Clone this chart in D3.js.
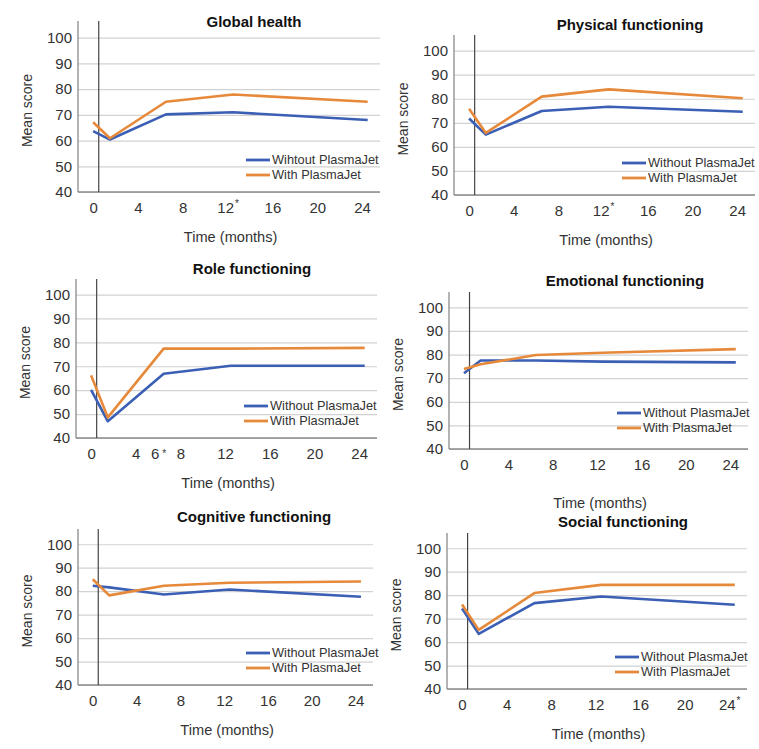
<!DOCTYPE html>
<html lang="en">
<head>
  <meta charset="UTF-8">
  <title>PlasmaJet quality of life</title>
  <script src="https://cdn.jsdelivr.net/npm/d3@7"></script>
  <style>
    body { margin: 0; background: #fff; }
    svg text { font-family: "Liberation Sans", Arial, sans-serif; fill: #333; }
    .grid line { stroke: #d2d2d2; stroke-width: 1.2px; }
    .grid path { display: none; }
    .tick-x line { display: none; }
    .tick-x path { display: none; }
    .title { font-weight: bold; font-size: 15px; fill: #111; }
    .line { fill: none; stroke-width: 2.6px; stroke-linejoin: round; }
  </style>
</head>
<body>
<svg width="759" height="749"></svg>
<script>
  // time points (months) and tick values
  var months = [0, 1.5, 6.5, 12.5, 24.5];
  var xTicks = [0, 4, 8, 12, 16, 20, 24];
  var xTicksRole = [0, 4, 6, 8, 12, 16, 20, 24];
  var yTicks = [40, 50, 60, 70, 80, 90, 100];

  var titles = ["Global health", "Physical functioning", "Role functioning",
                "Emotional functioning", "Cognitive functioning", "Social functioning"];
  // month that carries a significance asterisk per panel
  var starAt = [12, 12, 6, null, null, 24];

  var withoutLabel = ["Wihtout PlasmaJet", "Without PlasmaJet", "Without PlasmaJet",
                      "Without PlasmaJet", "Without PlasmaJet", "Without PlasmaJet"];
  var withLabel = "With PlasmaJet";

  var without = [
    [63.7, 60.4, 70.2, 71.0, 68.0],
    [71.8, 65.1, 74.9, 76.7, 74.6],
    [60.1, 47.0, 66.9, 70.2, 70.2],
    [72.1, 77.5, 77.5, 77.0, 76.7],
    [82.3, 81.6, 78.6, 80.7, 77.6],
    [74.3, 63.5, 76.6, 79.4, 75.9]
  ];
  var withJet = [
    [67.1, 60.9, 75.1, 77.9, 75.1],
    [75.8, 65.8, 80.9, 83.9, 80.2],
    [66.2, 48.6, 77.4, 77.4, 77.7],
    [73.9, 75.9, 79.8, 80.8, 82.3],
    [85.1, 78.2, 82.3, 83.6, 84.1],
    [76.0, 65.2, 80.9, 84.4, 84.4]
  ];

  var blue = "#3b5fb4", orange = "#e6893a";

  // panel boxes: left, top, bottom, right
  var boxes = [
    {l: 78, t: 21, b: 192, r: 380, ty: 27},
    {l: 454, t: 35, b: 195, r: 755, ty: 30},
    {l: 76, t: 279, b: 438, r: 377, ty: 274},
    {l: 449, t: 292, b: 449, r: 748, ty: 286},
    {l: 78, t: 529, b: 685, r: 373, ty: 522},
    {l: 447, t: 533, b: 689, r: 747, ty: 527}
  ];

  var svg = d3.select("svg");

  boxes.forEach(function(bx, i) {
    var w = bx.r - bx.l, h = bx.b - bx.t;
    var g = svg.append("g").attr("transform", "translate(" + bx.l + "," + bx.t + ")");

    var x = d3.scaleLinear().domain([-1.35, 25.6]).range([0, w]);
    var y = d3.scaleLinear().domain([40, 106.5]).range([h, 0]);

    // gridlines + y labels
    g.append("g")
        .attr("class", "grid")
        .call(d3.axisLeft(y).tickValues(yTicks).tickSize(-w).tickPadding(6))
      .selectAll("text")
        .style("font-size", "15px")
        .attr("fill", "#444");

    // x labels
    var xa = g.append("g")
        .attr("class", "tick-x")
        .attr("transform", "translate(0," + h + ")")
        .call(d3.axisBottom(x).tickValues(i === 2 ? xTicksRole : xTicks).tickSize(0).tickPadding(10));
    xa.selectAll("text")
        .style("font-size", "15px")
        .attr("fill", "#444")
        .each(function(d) {
          if (d === starAt[i]) {
            var t = d3.select(this);
            t.append("tspan")
                .attr("dx", i === 2 ? 3 : 1)
                .attr("dy", i === 2 ? -2 : -6)
                .style("font-size", "10px")
                .text("*");
          }
        });

    // axis lines
    g.append("line").attr("x1", 0).attr("x2", w).attr("y1", h).attr("y2", h)
        .attr("stroke", "#8a8a8a").attr("stroke-width", 1.3);
    g.append("line").attr("x1", 0).attr("x2", 0).attr("y1", 0).attr("y2", h)
        .attr("stroke", "#8a8a8a").attr("stroke-width", 1.3);
    // baseline marker
    g.append("line").attr("x1", x(0.5)).attr("x2", x(0.5)).attr("y1", 0).attr("y2", h)
        .attr("stroke", "#444").attr("stroke-width", 1.2);

    var line = d3.line()
        .x(function(d, j) { return x(months[j]); })
        .y(function(d) { return y(d); });

    g.append("path").datum(without[i]).attr("class", "line").attr("stroke", blue).attr("d", line);
    g.append("path").datum(withJet[i]).attr("class", "line").attr("stroke", orange).attr("d", line);

    // title
    svg.append("text")
        .attr("class", "title")
        .attr("x", bx.l + 176)
        .attr("y", bx.ty)
        .attr("text-anchor", "middle")
        .text(titles[i]);

    // axis titles
    g.append("text")
        .attr("transform", "translate(-51," + (h / 2 + 4) + ") rotate(-90)")
        .attr("text-anchor", "middle")
        .attr("dy", "0.35em")
        .style("font-size", "14px")
        .attr("fill", "#444")
        .text("Mean score");
    g.append("text")
        .attr("x", x(12) + 3)
        .attr("y", h + (i === 3 ? 54 : 45))
        .attr("text-anchor", "middle")
        .attr("dy", "0.35em")
        .style("font-size", "14.6px")
        .attr("fill", "#444")
        .text("Time (months)");

    // legend
    var leg = [{c: blue, t: withoutLabel[i], dy: 32}, {c: orange, t: withLabel, dy: 17}];
    leg.forEach(function(e) {
      var ly = h - (i === 3 ? e.dy + 4 : e.dy);
      g.append("line").attr("x1", 168).attr("x2", 192).attr("y1", ly).attr("y2", ly)
          .attr("stroke", e.c).attr("stroke-width", 2.8);
      g.append("text").attr("x", 194).attr("y", ly).attr("dy", "0.35em")
          .style("font-size", "12.8px").attr("fill", "#444").text(e.t);
    });
  });
</script>
</body>
</html>
